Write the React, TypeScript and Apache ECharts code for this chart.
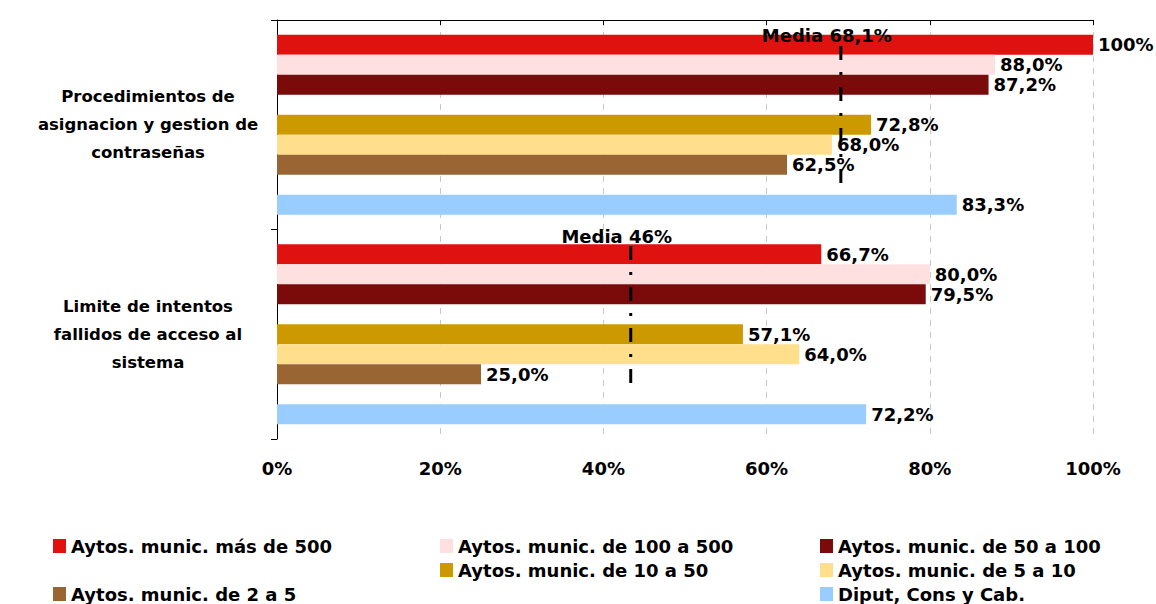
import React, { useEffect, useRef } from "react";
import * as echarts from "echarts";

const categories = [
  "Procedimientos de\nasignacion y gestion de\ncontraseñas",
  "Limite de intentos\nfallidos de acceso al\nsistema",
];

const seriesNames = [
  "Aytos. munic. más de 500",
  "Aytos. munic. de 100 a 500",
  "Aytos. munic. de 50 a 100",
  "sep1",
  "Aytos. munic. de 10 a 50",
  "Aytos. munic. de 5 a 10",
  "Aytos. munic. de 2 a 5",
  "sep2",
  "Diput, Cons y Cab.",
];

const seriesColors = [
  "#E0120F",
  "#FFE0E0",
  "#7B0A0A",
  "transparent",
  "#CC9900",
  "#FFDF8C",
  "#996633",
  "transparent",
  "#99CCFF",
];

const valuesMas500 = [100, 66.7];
const values100a500 = [88.0, 80.0];
const values50a100 = [87.2, 79.5];
const valuesSep1 = [null, null];
const values10a50 = [72.8, 57.1];
const values5a10 = [68.0, 64.0];
const values2a5 = [62.5, 25.0];
const valuesSep2 = [null, null];
const valuesDiput = [83.3, 72.2];

const seriesValues = [
  valuesMas500,
  values100a500,
  values50a100,
  valuesSep1,
  values10a50,
  values5a10,
  values2a5,
  valuesSep2,
  valuesDiput,
];

const xTicks = [0, 20, 40, 60, 80, 100];

// Media lines: x position as drawn, vertical extent on a 0..2 helper axis
const mediaLabels = ["Media 68,1%", "Media 46%"];
const mediaX = [69.1, 43.35];
const mediaYStart = [0.124, 1.079];
const mediaYEnd = [0.811, 1.766];

// Legend layout: [seriesIndex, left, top]
const legendCells: [number, number, number][] = [
  [0, 53, 537],
  [1, 440, 537],
  [2, 820, 537],
  [4, 440, 561],
  [5, 820, 561],
  [6, 53, 585],
  [8, 820, 585],
];

const FONT = "DejaVu Sans";

function fmt(v: number) {
  if (v === 100) return "100%";
  return v.toFixed(1).replace(".", ",") + "%";
}

export default function App() {
  const ref = useRef<HTMLDivElement>(null);
  useEffect(() => {
    if (!ref.current) return;
    const chart = echarts.init(ref.current, undefined, { renderer: "svg" });

    const barSeries = seriesNames.map((name, i) => ({
      type: "bar",
      name,
      xAxisIndex: 0,
      yAxisIndex: 0,
      barWidth: 20,
      barGap: "0%",
      data: seriesValues[i],
      itemStyle: { color: seriesColors[i] },
      label: {
        show: true,
        position: "right",
        distance: 5,
        color: "#000",
        fontFamily: FONT,
        fontWeight: "bold",
        fontSize: 18,
        formatter: (p: any) => fmt(p.value),
      },
      silent: true,
    }));

    const mediaSeries = mediaX.map((x, i) => ({
      type: "line",
      name: "media" + i,
      xAxisIndex: 0,
      yAxisIndex: 1,
      symbol: "circle",
      symbolSize: 0,
      lineStyle: { color: "#000", width: 3, type: [14, 12, 3, 12], cap: "butt" },
      data: [
        {
          value: [x, mediaYStart[i]],
          label: {
            show: true,
            position: "top",
            distance: 1,
            offset: [-14, 0],
            formatter: mediaLabels[i],
            color: "#000",
            fontFamily: FONT,
            fontWeight: "bold",
            fontSize: 18,
          },
        },
        { value: [x, mediaYEnd[i]] },
      ],
      z: 5,
      silent: true,
    }));

    const legends = legendCells.map(([si, left, top]) => ({
      data: [seriesNames[si]],
      left,
      top,
      padding: 0,
      icon: "rect",
      itemWidth: 13,
      itemHeight: 14,
      selectedMode: false,
      textStyle: {
        fontFamily: FONT,
        fontWeight: "bold",
        fontSize: 18,
        color: "#000",
        padding: [0, 0, 0, 0],
      },
    }));

    chart.setOption({
      animation: false,
      backgroundColor: "#fff",
      grid: { left: 277, right: 63, top: 20, bottom: 165, containLabel: false },
      legend: legends,
      xAxis: {
        type: "value",
        min: 0,
        max: 100,
        interval: 20,
        axisLine: { show: true, lineStyle: { color: "#000", width: 1 } },
        axisTick: { show: true, length: 5, lineStyle: { color: "#000" } },
        axisLabel: {
          margin: 20,
          formatter: (v: number) => (xTicks.includes(v) ? v + "%" : ""),
          color: "#000",
          fontFamily: FONT,
          fontWeight: "bold",
          fontSize: 18,
        },
        splitLine: {
          show: true,
          lineStyle: { color: "#C8C8C8", type: [6, 6], width: 1 },
        },
      },
      yAxis: [
        {
          type: "category",
          data: categories,
          inverse: true,
          axisLine: { show: true, lineStyle: { color: "#000", width: 1 } },
          axisTick: { show: true, length: 6, lineStyle: { color: "#000" } },
          axisLabel: {
            align: "center",
            margin: 129,
            lineHeight: 28,
            color: "#000",
            fontFamily: FONT,
            fontWeight: "bold",
            fontSize: 16.5,
          },
          splitLine: { show: false },
        },
        {
          type: "value",
          min: 0,
          max: 2,
          inverse: true,
          show: false,
          splitLine: { show: false },
        },
      ],
      series: [...barSeries, ...mediaSeries],
    });
    return () => chart.dispose();
  }, []);
  return (
    <div
      ref={ref}
      style={{ position: "fixed", left: 0, top: 0, width: 1156, height: 604 }}
    />
  );
}
